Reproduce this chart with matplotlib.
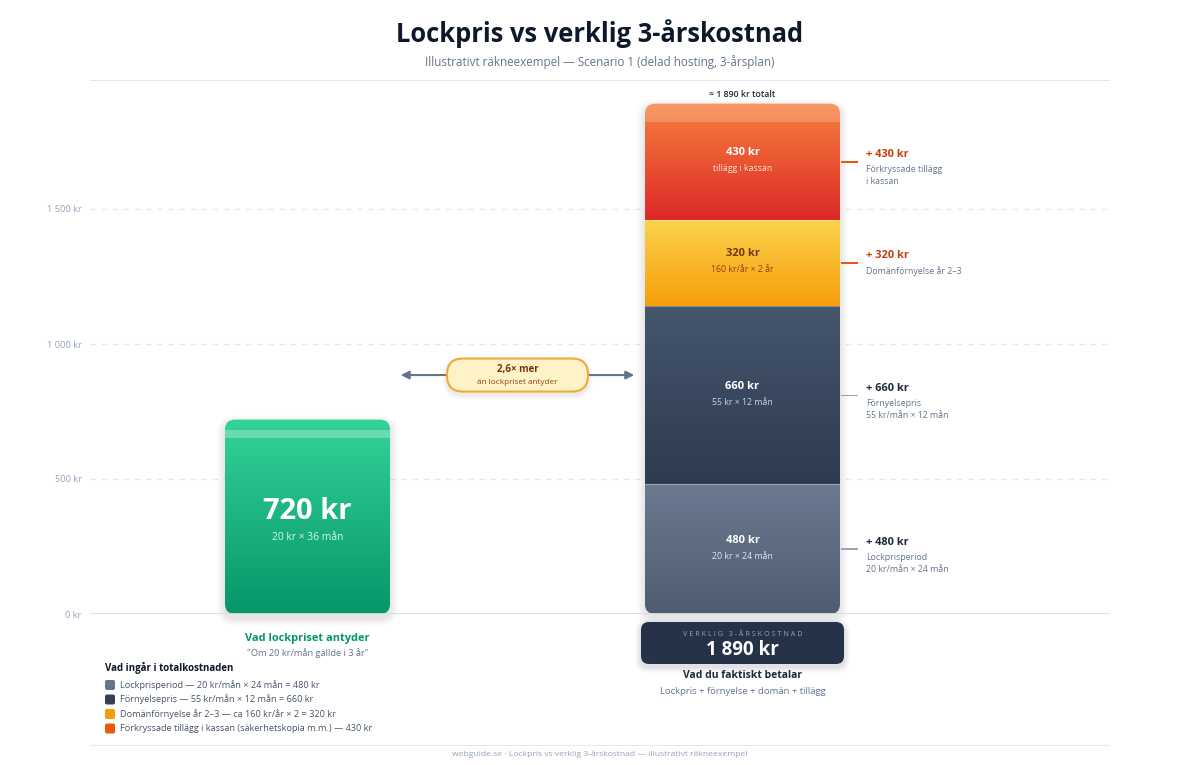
import numpy as np
import matplotlib.pyplot as plt
from matplotlib import font_manager
from matplotlib.patches import FancyBboxPatch, FancyArrowPatch, Rectangle
from matplotlib.transforms import IdentityTransform
from matplotlib.colors import to_rgb

# pick a sans family that actually has a bold face installed
_bold = {f.name for f in font_manager.fontManager.ttflist
         if f.weight in ("bold", 700, 600, "semibold", "demibold") or
         (isinstance(f.weight, int) and f.weight >= 600)}
_family = next((n for n in ["Open Sans", "Noto Sans", "Lato", "Roboto", "Inter"]
                if n in _bold), "DejaVu Sans")
plt.rcParams['font.family'] = [_family, 'DejaVu Sans']

# --- data ---
lock_total = 720
lock_label = "720 kr"
lock_sub = "20 kr × 36 mån"
seg_values = [480, 660, 320, 430]
seg_labels = ["480 kr", "660 kr", "320 kr", "430 kr"]
seg_subs = ["20 kr × 24 mån", "55 kr × 12 mån", "160 kr/år × 2 år", "tillägg i kassan"]
seg_notes = [["Lockprisperiod", "20 kr/mån × 24 mån"],
             ["Förnyelsepris", "55 kr/mån × 12 mån"],
             ["Domänförnyelse år 2–3"],
             ["Förkryssade tillägg", "i kassan"]]
legend_labels = ["Lockprisperiod — 20 kr/mån × 24 mån = 480 kr",
                 "Förnyelsepris — 55 kr/mån × 12 mån = 660 kr",
                 "Domänförnyelse år 2–3 — ca 160 kr/år × 2 = 320 kr",
                 "Förkryssade tillägg i kassan (säkerhetskopia m.m.) — 430 kr"]
yticks = [0, 500, 1000, 1500]
ytick_labels = ["0 kr", "500 kr", "1 000 kr", "1 500 kr"]

# --- styles ---
seg_top = ["#6b7a90", "#45566d", "#fcd34d", "#f7803e"]
seg_bot = ["#4f5d73", "#2e3b50", "#f59e0b", "#dc2828"]
seg_txt = ["white", "white", "#78350f", "white"]
seg_subtxt = ["#e2e8f0", "#cbd5e1", "#92400e", "#fde2d4"]
note_head = ["#1e293b", "#1e293b", "#c2410c", "#c2410c"]
note_line = ["#94a3b8", "#94a3b8", "#ea580c", "#ea580c"]
legend_colors = ["#64748b", "#334155", "#f59e0b", "#ea580c"]
bar_x = [307.5, 742.5]
bar_w = [165, 195]

W, H = 1200, 765
fig = plt.figure(figsize=(12, 7.65), dpi=100, facecolor="white")
ax = fig.add_axes([90 / W, 151 / H, 1020 / W, 540 / H])
ax.set_xlim(90, 1110)
ax.set_ylim(0, 2000)
ax.patch.set_visible(False)
for s in ax.spines.values():
    s.set_visible(False)
ax.set_xticks([])
ax.set_yticks(yticks, ytick_labels)
ax.tick_params(axis="y", length=0, pad=6, labelsize=6.7, labelcolor="#94a3b8")
for v in yticks[1:]:
    ax.axhline(v, color="#e2e8f0", lw=1, ls=(0, (4, 4)), zorder=0.5)
ax.axhline(0, color="#d5dde7", lw=1.3, zorder=3)


def ftext(x, ytop, s, **kw):
    fig.text(x / W, 1 - ytop / H, s, **kw)


def rbox(x0, y0, x1, y1, r, **kw):
    p = FancyBboxPatch((x0, y0), x1 - x0, y1 - y0,
                       boxstyle=f"round,pad=0,rounding_size={r}",
                       transform=IdentityTransform(), **kw)
    return p


def add(p, z=1):
    ax.add_patch(p)
    p.set_clip_on(False)
    p.set_zorder(z)
    return p


def shadow(x0, y0, x1, y1, r, dy=4, n=8, alpha=0.012):
    for i in range(n, 0, -1):
        add(rbox(x0 - i, y0 - i - dy, x1 + i, y1 + i - dy, r + i,
                 fc="#0f172a", ec="none", alpha=alpha), z=0.8)


def vgrad(x0, x1, y0, y1, ctop, cbot, clip, z=2):
    t = np.linspace(0, 1, 256)[:, None]
    c = (1 - t) * np.array(to_rgb(ctop)) + t * np.array(to_rgb(cbot))
    im = ax.imshow(c[:, None, :], extent=[x0, x1, y0, y1], aspect="auto",
                   origin="upper", interpolation="bilinear", zorder=z)
    im.set_clip_path(clip)


# --- left bar (lock price) ---
lx0, lx1 = bar_x[0] - bar_w[0] / 2, bar_x[0] + bar_w[0] / 2
(a0, b0), (a1, b1) = ax.transData.transform([(lx0, 0), (lx1, lock_total)])
shadow(a0, b0, a1, b1, 10)
clip_l = rbox(a0, b0, a1, b1, 10)
vgrad(lx0, lx1, 0, lock_total, "#34d399", "#059669", clip_l)
hl = add(Rectangle((a0, b1 - 18), a1 - a0, 8, transform=IdentityTransform(),
                   fc="white", ec="none", alpha=0.28), z=2.5)
hl.set_clip_path(clip_l)
ax.annotate(lock_label, (bar_x[0], lock_total / 2), xytext=(0, 5),
            textcoords="offset pixels", ha="center", va="center",
            fontsize=21, fontweight="bold", color="white", zorder=4)
ax.annotate(lock_sub, (bar_x[0], lock_total / 2), xytext=(0, -21),
            textcoords="offset pixels", ha="center", va="center",
            fontsize=7.4, color="#d1fae5", zorder=4)

# --- right stacked bar ---
total = sum(seg_values)
rx0, rx1 = bar_x[1] - bar_w[1] / 2, bar_x[1] + bar_w[1] / 2
(c0, d0), (c1, d1) = ax.transData.transform([(rx0, 0), (rx1, total)])
shadow(c0, d0, c1, d1, 10)
clip_r = rbox(c0, d0, c1, d1, 10)
bottoms = np.concatenate([[0], np.cumsum(seg_values)[:-1]])
for i, (v, b) in enumerate(zip(seg_values, bottoms)):
    vgrad(rx0, rx1, b, b + v, seg_top[i], seg_bot[i], clip_r)
    mid = b + v / 2
    ax.annotate(seg_labels[i], (bar_x[1], mid), xytext=(0, 9),
                textcoords="offset pixels", ha="center", va="center",
                fontsize=8, fontweight="bold", color=seg_txt[i], zorder=4)
    ax.annotate(seg_subs[i], (bar_x[1], mid), xytext=(0, -7),
                textcoords="offset pixels", ha="center", va="center",
                fontsize=6.3, color=seg_subtxt[i], zorder=4)
    if i > 0:
        ax.hlines(b, rx0, rx1, color="white", lw=0.8, alpha=0.35, zorder=3)
    # side notes
    ym = ax.transData.transform((0, mid))[1]
    add(Rectangle((c1 + 1, ym - 0.75), 17, 1.5, transform=IdentityTransform(),
                  fc=note_line[i], ec="none"), z=3)
    ax.annotate(f"+ {seg_labels[i]}", (rx1, mid), xytext=(26, 7),
                textcoords="offset pixels", ha="left", va="center",
                fontsize=7.9, fontweight="bold", color=note_head[i],
                annotation_clip=False)
    for j, line in enumerate(seg_notes[i]):
        ax.annotate(line, (rx1, mid), xytext=(26, -8 - 12 * j),
                    textcoords="offset pixels", ha="left", va="center",
                    fontsize=6.3, color="#64748b", annotation_clip=False)
hr = add(Rectangle((c0, d1 - 18), c1 - c0, 18, transform=IdentityTransform(),
                   fc="white", ec="none", alpha=0.2), z=2.5)
hr.set_clip_path(clip_r)
tot_str = f"{total:,}".replace(",", " ")
ax.annotate(f"≈ {tot_str} kr totalt", (bar_x[1], total), xytext=(0, 9),
            textcoords="offset pixels", ha="center", va="center",
            fontsize=6.3, fontweight="semibold", color="#1e293b",
            annotation_clip=False)

# --- comparison arrow + pill ---
arrow_y = 885
ax.add_patch(FancyArrowPatch((lx1 + 8, arrow_y), (rx0 - 8, arrow_y),
                             arrowstyle="<|-|>", mutation_scale=12, lw=1.5,
                             color="#64748b", zorder=3))
ay = ax.transData.transform((0, arrow_y))[1]
pm = ax.transData.transform(((lx1 + rx0) / 2, 0))[0]
shadow(pm - 70.5, ay - 16.5, pm + 70.5, ay + 16.5, 16, dy=3, n=5, alpha=0.015)
add(rbox(pm - 70.5, ay - 16.5, pm + 70.5, ay + 16.5, 16,
         fc="#fef3c7", ec="#f2a93b", lw=1.5), z=4)
ratio = f"{total / lock_total:.1f}".replace(".", ",")
ax.annotate(f"{ratio}× mer", ((lx1 + rx0) / 2, arrow_y), xytext=(0, 6),
            textcoords="offset pixels", ha="center", va="center",
            fontsize=7, fontweight="bold", color="#78350f", zorder=5)
ax.annotate("än lockpriset antyder", ((lx1 + rx0) / 2, arrow_y), xytext=(0, -7),
            textcoords="offset pixels", ha="center", va="center",
            fontsize=5.85, color="#92400e", zorder=5)

# --- captions under bars ---
ftext(bar_x[0], 638, "Vad lockpriset antyder", ha="center", va="center",
      fontsize=7.9, fontweight="bold", color="#059669")
ftext(bar_x[0], 653, "\"Om 20 kr/mån gällde i 3 år\"", ha="center", va="center",
      fontsize=6.7, color="#64748b")

shadow(641, H - 664, 844, H - 622, 8, dy=3, n=6, alpha=0.02)
add(rbox(641, H - 664, 844, H - 622, 8, fc="#253247", ec="none"), z=4)
ftext(742.5, 634, "V E R K L I G   3 - Å R S K O S T N A D", ha="center",
      va="center", fontsize=5.2, color="#94a3b8")
ftext(742.5, 650, f"{tot_str} kr", ha="center", va="center",
      fontsize=13.5, fontweight="bold", color="white")
ftext(742.5, 676, "Vad du faktiskt betalar", ha="center", va="center",
      fontsize=7.5, fontweight="bold", color="#1e293b")
ftext(742.5, 691, "Lockpris + förnyelse + domän + tillägg", ha="center",
      va="center", fontsize=6.8, color="#64748b")

# --- legend ---
ftext(105, 668, "Vad ingår i totalkostnaden", ha="left", va="center",
      fontsize=7, fontweight="bold", color="#0f172a")
for k, (lab, col) in enumerate(zip(legend_labels, legend_colors)):
    yt = 685 + 14.5 * k
    add(rbox(105, H - yt - 5, 115, H - yt + 5, 2, fc=col, ec="none"), z=4)
    ftext(120, yt, lab, ha="left", va="center", fontsize=6.6, color="#475569")

# --- header / footer ---
ftext(600, 34, "Lockpris vs verklig 3-årskostnad", ha="center", va="center",
      fontsize=18.4, fontweight="bold", color="#0f172a")
ftext(600, 62, "Illustrativt räkneexempel — Scenario 1 (delad hosting, 3-årsplan)",
      ha="center", va="center", fontsize=8.4, color="#64748b")
add(Rectangle((90, H - 80.5), 1020, 1, transform=IdentityTransform(),
              fc="#e2e8f0", ec="none"))
add(Rectangle((90, H - 745.5), 1020, 1, transform=IdentityTransform(),
              fc="#e2e8f0", ec="none"))
ftext(600, 754, "webguide.se · Lockpris vs verklig 3-årskostnad — illustrativt räkneexempel",
      ha="center", va="center", fontsize=6.1, color="#94a3b8")

fig.savefig("out.png", dpi=100, facecolor="white")
